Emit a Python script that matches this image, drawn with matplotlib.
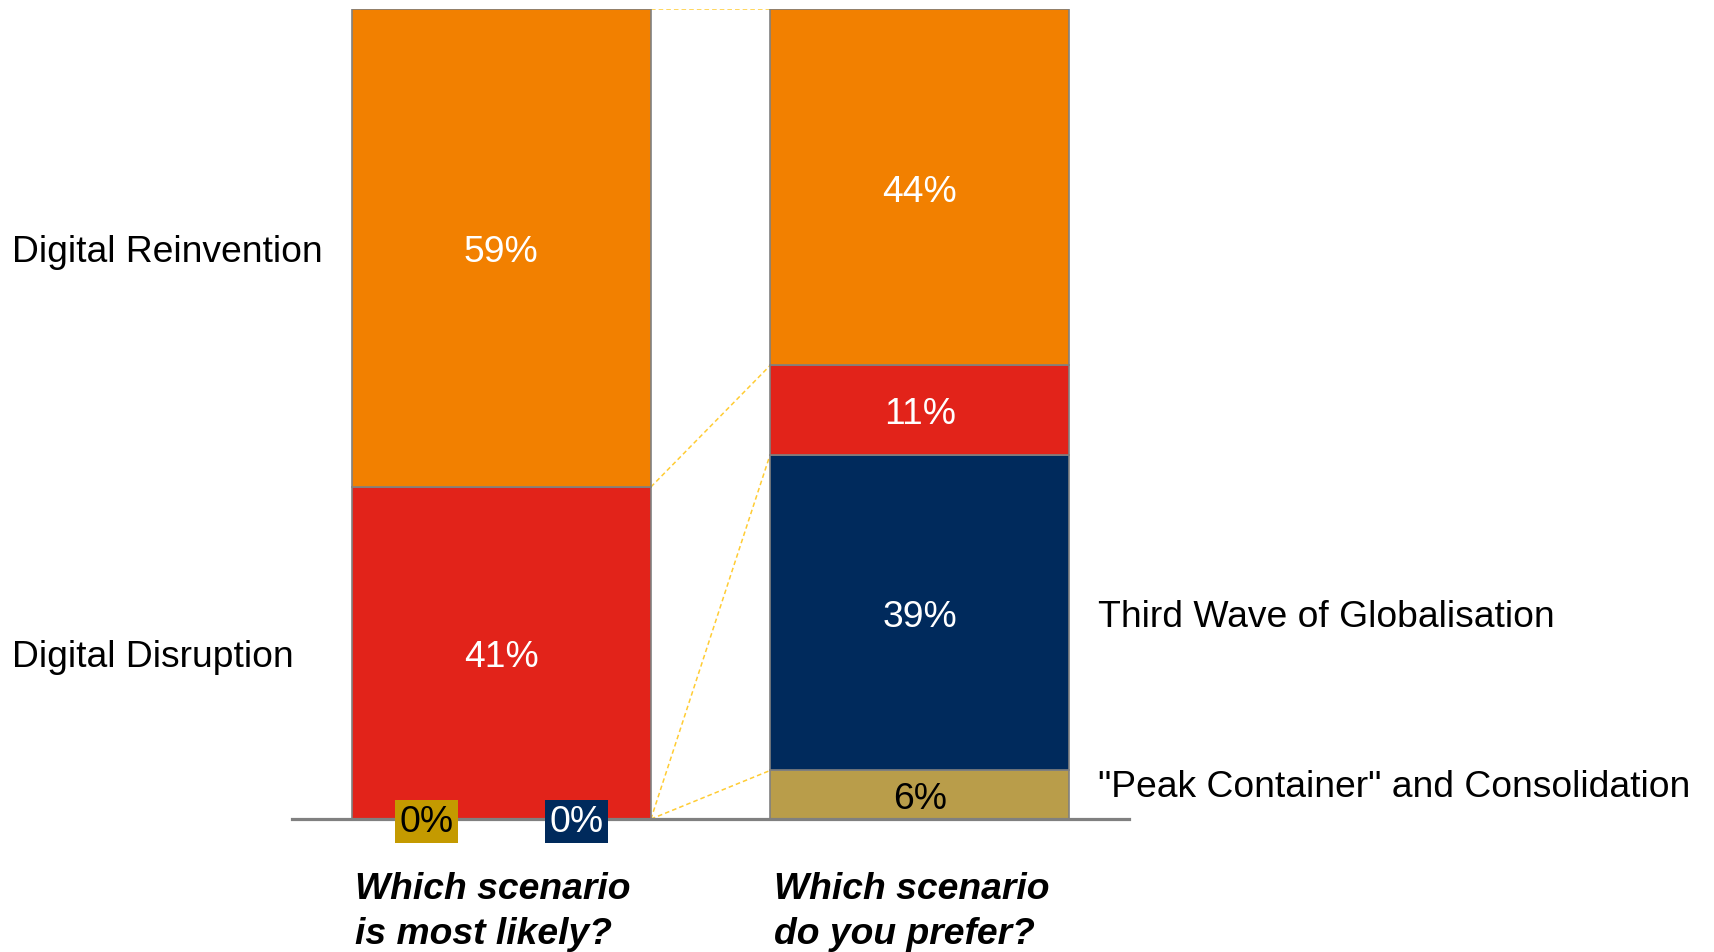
import matplotlib
matplotlib.use('Agg')
import matplotlib.pyplot as plt
import numpy as np

plt.rcParams['font.family'] = ['Liberation Sans', 'DejaVu Sans']

# Survey shares (%) per scenario, stacked bottom -> top
questions = ['Which scenario\nis most likely?', 'Which scenario\ndo you prefer?']
scenarios = ['"Peak Container" and Consolidation', 'Third Wave of Globalisation',
             'Digital Disruption', 'Digital Reinvention']
likely = [0, 0, 41, 59]
prefer = [6, 39, 11, 44]

bar_colors = ['#B99D4A', '#002A5C', '#E2231A', '#F28000']
text_colors = ['black', 'white', 'white', 'white']
zero_box_colors = ['#C49A00', '#002A5C']
FS = 26.8

fig = plt.figure(figsize=(17.14, 9.53), dpi=100)
ax = fig.add_axes([0.1704, 0.1395, 0.4883, 0.850])
ax.set_xlim(-0.5, 1.5)
ax.set_ylim(0, 100)
ax.axis('off')

width = 0.715
xpos = np.arange(len(questions))
data = np.array([likely, prefer], dtype=float)
bottoms = np.zeros(len(questions))

for i in range(len(scenarios)):
    vals = data[:, i]
    ax.bar(xpos, vals, width, bottom=bottoms, color=bar_colors[i],
           edgecolor='#808080', linewidth=1.2, zorder=2)
    for j, v in enumerate(vals):
        if v > 0:
            ax.text(xpos[j], bottoms[j] + v / 2, f'{v:.0f}%', ha='center',
                    va='center_baseline', fontsize=FS, color=text_colors[i], zorder=4)
    bottoms += vals

# zero-valued segments of the first bar get boxed labels on the baseline
zero_idx = [i for i in range(len(scenarios)) if likely[i] == 0]
for k, i in enumerate(zero_idx):
    ax.text(xpos[0] + (-0.179 if k == 0 else 0.179), -0.3, f'{likely[i]}%',
            ha='center', va='center', fontsize=FS, color=text_colors[i], zorder=5,
            bbox=dict(boxstyle='square,pad=0.12', facecolor=zero_box_colors[k],
                      edgecolor='none'))

# series lines between the two bars
cum = np.cumsum(data, axis=1)
for i in range(len(scenarios)):
    ax.plot([xpos[0] + width / 2, xpos[1] - width / 2], [cum[0, i], cum[1, i]],
            linestyle=(0, (3, 2)), color='#FFCC33', linewidth=1.1, zorder=1)

ax.axhline(0, color='#808080', linewidth=2.3, zorder=3, clip_on=False)

# scenario names beside the bars
kw = dict(ha='left', va='center_baseline', fontsize=FS)
ax.text(-1.169, likely[2] + likely[3] / 2, scenarios[3], **kw)
ax.text(-1.169, likely[2] / 2, scenarios[2], **kw)
ax.text(1.427, prefer[0] + prefer[1] / 2, scenarios[1], **kw)
ax.text(1.427, prefer[0] / 2 + 1.5, scenarios[0], **kw)

for j, q in enumerate(questions):
    ax.text(xpos[j] - width / 2 + 0.008, -6.4, q, ha='left', va='top', fontsize=FS,
            fontweight='bold', fontstyle='italic', linespacing=1.38)

fig.savefig('out.png', dpi=100)
plt.close(fig)
